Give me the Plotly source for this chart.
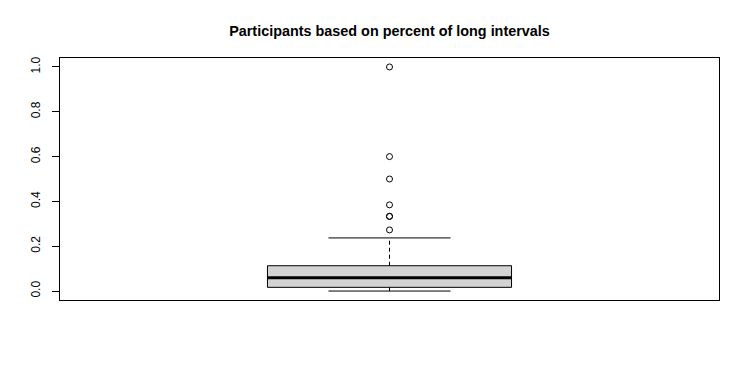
import plotly.graph_objects as go

# ---- data ----
title_text = "Participants based on percent of long intervals"
box_pos = [1.0]
q1 = [0.0165]
median = [0.059]
q3 = [0.113]
lower_whisker = [0.0]
upper_whisker = [0.237]
outliers = [0.2727, 0.3333, 0.3333, 0.3846, 0.5, 0.6, 1.0]
y_tick_vals = [0.0, 0.2, 0.4, 0.6, 0.8, 1.0]
y_tick_text = ["0.0", "0.2", "0.4", "0.6", "0.8", "1.0"]

# ---- styling ----
half_box = 0.2
half_staple = 0.1
font_family = "Liberation Sans, Arial, Helvetica, sans-serif"

fig = go.Figure()
for i, x in enumerate(box_pos):
    xl, xr = x - half_box, x + half_box
    # box body
    fig.add_trace(go.Scatter(
        x=[xl, xr, xr, xl, xl],
        y=[q1[i], q1[i], q3[i], q3[i], q1[i]],
        mode="lines", fill="toself", fillcolor="#d3d3d3",
        line=dict(color="black", width=1), hoverinfo="skip"))
    # whiskers (dashed)
    fig.add_trace(go.Scatter(
        x=[x, x, None, x, x],
        y=[q3[i], upper_whisker[i], None, q1[i], lower_whisker[i]],
        mode="lines", line=dict(color="black", width=1, dash="4px,3px"),
        hoverinfo="skip"))
    # staples
    fig.add_trace(go.Scatter(
        x=[x - half_staple, x + half_staple, None, x - half_staple, x + half_staple],
        y=[upper_whisker[i], upper_whisker[i], None, lower_whisker[i], lower_whisker[i]],
        mode="lines", line=dict(color="black", width=1), hoverinfo="skip"))
    # median
    fig.add_trace(go.Scatter(
        x=[xl, xr], y=[median[i], median[i]],
        mode="lines", line=dict(color="black", width=3), hoverinfo="skip"))
    # outliers
    fig.add_trace(go.Scatter(
        x=[x] * len(outliers), y=outliers, mode="markers",
        marker=dict(symbol="circle-open", size=6, color="black",
                    line=dict(width=1, color="black"))))

fig.update_layout(
    width=750, height=375,
    margin=dict(l=52, r=39, t=50, b=83),
    paper_bgcolor="white", plot_bgcolor="white",
    showlegend=False,
    font=dict(family=font_family, size=12, color="black"),
    title=dict(text="<b>" + title_text + "</b>", x=0.5, xref="paper",
               y=1 - 23 / 375, yref="container", yanchor="middle",
               xanchor="center", font=dict(size=14.4, family=font_family)),
    xaxis=dict(range=[0.46, 1.54], showticklabels=False, ticks="",
               showgrid=False, zeroline=False, showline=True, mirror=True,
               linecolor="black", linewidth=1),
    yaxis=dict(range=[-0.04, 1.04], tickvals=y_tick_vals, ticktext=y_tick_text,
               ticks="outside", ticklen=7, tickcolor="black", tickangle=-90,
               showgrid=False, zeroline=False, showline=True, mirror=True,
               linecolor="black", linewidth=1, ticklabelstandoff=7),
)

fig.write_html("out.html")
